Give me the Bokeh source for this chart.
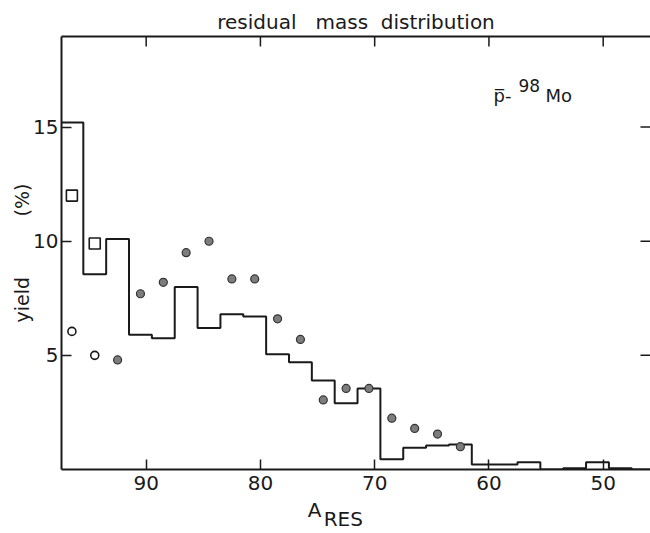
import numpy as np
from bokeh.plotting import figure
from bokeh.models import Range1d, FixedTicker, LinearAxis, Label
from bokeh.embed import file_html
from bokeh.resources import INLINE

# ---- data ----
bin_centers = [96.5, 94.5, 92.5, 90.5, 88.5, 86.5, 84.5, 82.5, 80.5, 78.5, 76.5, 74.5, 72.5,
               70.5, 68.5, 66.5, 64.5, 62.5, 60.5, 58.5, 56.5, 54.5, 52.5, 50.5, 48.5]
hist_yield = [15.2, 8.55, 10.1, 5.9, 5.75, 8.0, 6.2, 6.8, 6.7, 5.05, 4.7, 3.9, 2.9,
              3.55, 0.45, 0.95, 1.05, 1.1, 0.22, 0.22, 0.32, 0.0, 0.06, 0.32, 0.06]
bin_width = 2.0

filled_x = [92.5, 90.5, 88.5, 86.5, 84.5, 82.5, 80.5, 78.5, 76.5, 74.5, 72.5, 70.5, 68.5, 66.5, 64.5, 62.5]
filled_y = [4.8, 7.7, 8.2, 9.5, 10.0, 8.35, 8.35, 6.6, 5.7, 3.05, 3.55, 3.55, 2.25, 1.8, 1.55, 1.0]
open_circ_x = [96.5, 94.5]
open_circ_y = [6.05, 5.0]
open_sq_x = [96.5, 94.5]
open_sq_y = [12.0, 9.9]

x_ticks = [90, 80, 70, 60, 50]
y_ticks = [5, 10, 15]

INK = "#1a1a1a"
FONT = "DejaVu Sans"
NB = "\u00a0"

p = figure(width=650, height=533, output_backend="svg", toolbar_location=None,
           x_range=Range1d(97.41, 45.86), y_range=Range1d(0, 18.97),
           min_border_left=61, min_border_right=0, min_border_top=36, min_border_bottom=64)
p.outline_line_color = None
p.xgrid.visible = False
p.ygrid.visible = False
p.background_fill_color = "white"
p.border_fill_color = "white"

# title
p.title.text = "residual" + NB * 3 + "mass" + NB * 2 + "distribution"
p.title.align = "center"
p.title.text_font = FONT
p.title.text_font_size = "20px"
p.title.text_font_style = "normal"
p.title.text_color = INK
p.title.standoff = 5

def style_axis(ax, ticks):
    ax.ticker = FixedTicker(ticks=ticks)
    ax.major_tick_in = 10
    ax.major_tick_out = 0
    ax.minor_tick_line_color = None
    ax.major_tick_line_color = INK
    ax.major_tick_line_width = 1.5
    ax.axis_line_color = INK
    ax.axis_line_width = 2
    ax.major_label_text_font = FONT
    ax.major_label_text_font_size = "20px"
    ax.major_label_text_color = INK
    ax.axis_label_text_font = FONT
    ax.axis_label_text_font_style = "normal"
    ax.axis_label_text_color = INK

xa = p.xaxis[0]
style_axis(xa, x_ticks)
xa.major_label_standoff = 6
xa.axis_label = "A" + NB * 13
xa.axis_label_text_font_size = "20px"
xa.axis_label_standoff = 5

ya = p.yaxis[0]
style_axis(ya, y_ticks)
ya.major_label_standoff = 3
ya.axis_label = "yield" + NB * 10 + "(%)"
ya.axis_label_text_font_size = "19px"
ya.axis_label_standoff = -3

# second lower axis only to carry the subscript
sub_ax = LinearAxis(ticker=FixedTicker(ticks=[]), axis_line_color=None,
                    major_tick_line_color=None, minor_tick_line_color=None,
                    axis_label="RES" + NB * 4, axis_label_text_font=FONT,
                    axis_label_text_font_size="20px", axis_label_text_font_style="normal",
                    axis_label_text_color=INK, axis_label_standoff=-18)
p.add_layout(sub_ax, "below")

# top frame line
top_ax = LinearAxis(ticker=FixedTicker(ticks=[]), axis_line_color=INK, axis_line_width=2,
                    major_tick_line_color=None, minor_tick_line_color=None)
p.add_layout(top_ax, "above")

# inward ticks on top and right edges (markers clipped by the frame)
p.scatter(x_ticks, [p.y_range.end] * len(x_ticks), marker="dash", size=20, angle=np.pi / 2,
          line_color=INK, line_width=1.5)
p.scatter([p.x_range.end] * len(y_ticks), y_ticks, marker="dash", size=20,
          line_color=INK, line_width=1.5)

# ---- histogram outline as a step path ----
hx, hy = [], []
for c, v in zip(bin_centers, hist_yield):
    hx += [c + bin_width / 2, c - bin_width / 2]
    hy += [v, v]
hx.append(bin_centers[-1] - bin_width / 2)
hy.append(0.0)
hx.append(p.x_range.end)
hy.append(0.0)
p.line(hx, hy, line_color=INK, line_width=2)

# ---- points ----
p.scatter(filled_x, filled_y, marker="circle", size=8, fill_color="#7d7d7d",
          line_color="#333333", line_width=1.2)
p.scatter(open_circ_x, open_circ_y, marker="circle", size=8, fill_color="white",
          line_color=INK, line_width=1.6)
p.scatter(open_sq_x, open_sq_y, marker="square", size=11, fill_color="white",
          line_color=INK, line_width=1.6)

# ---- reaction label inside the frame (screen units from frame bottom-left) ----
def lab(text, x, y, size):
    p.add_layout(Label(x=x, y=y, x_units="screen", y_units="screen", text=text,
                       text_font=FONT, text_font_size=size, text_color=INK,
                       text_align="left", text_baseline="alphabetic"))

lab("p\u0305-", 432, 374, "18px")
lab("98", 457, 384, "17px")
lab("Mo", 484, 374, "18px")

open("out.html", "w").write(file_html(p, INLINE))
